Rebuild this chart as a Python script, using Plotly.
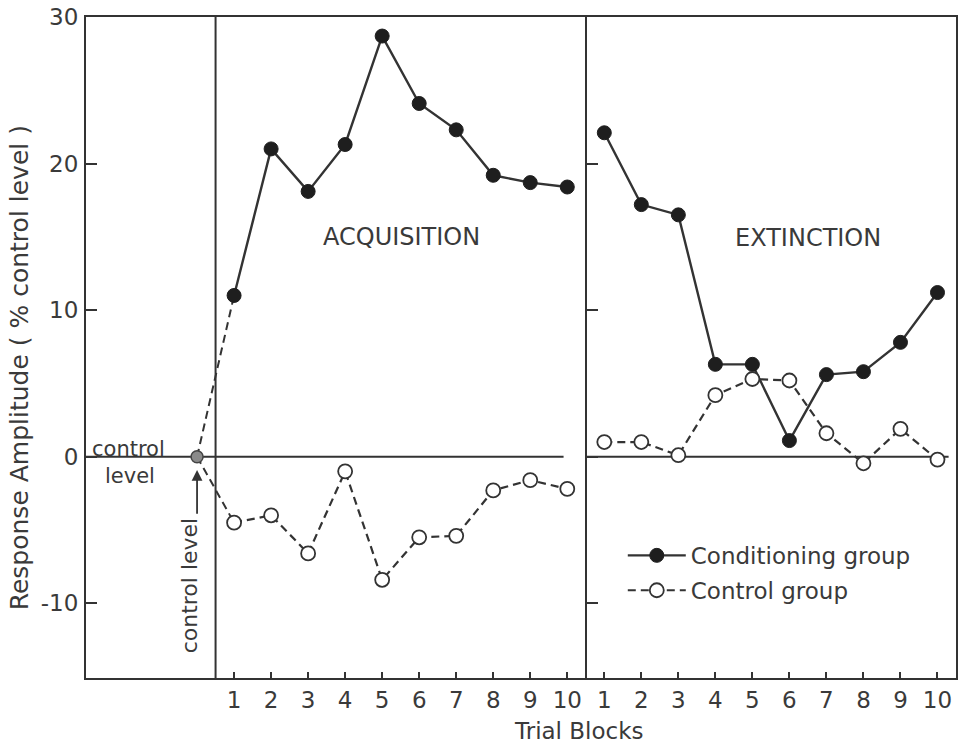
import plotly.graph_objects as go

# ---- data ----
blocks = [1, 2, 3, 4, 5, 6, 7, 8, 9, 10]
block_labels = ["1", "2", "3", "4", "5", "6", "7", "8", "9", "10"]
cond_acq = [11.0, 21.0, 18.1, 21.3, 28.7, 24.1, 22.3, 19.2, 18.7, 18.4]
cond_ext = [22.1, 17.2, 16.5, 6.3, 6.3, 1.1, 5.6, 5.8, 7.8, 11.2]
ctrl_acq = [-4.5, -4.0, -6.6, -1.0, -8.4, -5.5, -5.4, -2.3, -1.6, -2.2]
ctrl_ext = [1.0, 1.0, 0.1, 4.2, 5.3, 5.2, 1.6, -0.45, 1.9, -0.2]
control_level = 0.0
ytick_vals = [-10, 0, 10, 20, 30]
ytick_text = ["-10", "0", "10", "20", "30"]

# positions on a continuous axis: acquisition 1..10, extinction 11..20
x_acq = blocks
x_ext = [b + 10 for b in blocks]
x_ctrl_point = 0

INK = "#333333"
TXT = "#3a3a3a"
FONT = "DejaVu Sans"
MS = 14
DASH = "8px,5px"

fig = go.Figure()

# dashed links from control level to first acquisition block
fig.add_trace(go.Scatter(x=[x_ctrl_point, x_acq[0]], y=[control_level, cond_acq[0]],
                         mode="lines", line=dict(color=INK, width=2, dash=DASH),
                         showlegend=False, hoverinfo="skip"))
fig.add_trace(go.Scatter(x=[x_ctrl_point, x_acq[0]], y=[control_level, ctrl_acq[0]],
                         mode="lines", line=dict(color=INK, width=2, dash=DASH),
                         showlegend=False, hoverinfo="skip"))

# conditioning group
fig.add_trace(go.Scatter(x=x_acq, y=cond_acq, mode="lines+markers", name="Conditioning group",
                         legendgroup="a",
                         line=dict(color=INK, width=2.4),
                         marker=dict(size=MS, color="#1e1e1e", line=dict(color="#1e1e1e", width=1))))
fig.add_trace(go.Scatter(x=x_ext, y=cond_ext, mode="lines+markers", showlegend=False,
                         legendgroup="a",
                         line=dict(color=INK, width=2.4),
                         marker=dict(size=MS, color="#1e1e1e", line=dict(color="#1e1e1e", width=1))))
# control group
fig.add_trace(go.Scatter(x=x_acq, y=ctrl_acq, mode="lines+markers", name="Control group",
                         legendgroup="b",
                         line=dict(color=INK, width=2.2, dash=DASH),
                         marker=dict(size=MS, color="white", line=dict(color=INK, width=1.8))))
fig.add_trace(go.Scatter(x=x_ext, y=ctrl_ext, mode="lines+markers", showlegend=False,
                         legendgroup="b",
                         line=dict(color=INK, width=2.2, dash=DASH),
                         marker=dict(size=MS, color="white", line=dict(color=INK, width=1.8))))
# control level point
fig.add_trace(go.Scatter(x=[x_ctrl_point], y=[control_level], mode="markers", showlegend=False,
                         marker=dict(size=12, color="#8a8a8a", line=dict(color="#444", width=1.5))))

# reference (zero) lines and panel divider
fig.add_shape(type="line", x0=-3, x1=9.9, y0=control_level, y1=control_level,
              line=dict(color=INK, width=2), layer="below")
fig.add_shape(type="line", x0=10.5, x1=20.3, y0=control_level, y1=control_level,
              line=dict(color=INK, width=2), layer="below")
fig.add_shape(type="line", x0=0.5, x1=0.5, y0=0, y1=1, yref="paper",
              line=dict(color=INK, width=2), layer="below")

xmin, xmax = -3, 20.5
fig.update_layout(
    width=959, height=743,
    margin=dict(l=86, r=1, t=17, b=65),
    paper_bgcolor="white", plot_bgcolor="white",
    font=dict(family=FONT, color=TXT, size=22),
    xaxis=dict(range=[xmin, xmax], tickvals=x_acq + x_ext, ticktext=block_labels + block_labels,
               ticks="inside", ticklen=6, tickcolor=INK, tickwidth=1.5,
               showline=True, linecolor=INK, linewidth=2, mirror=True,
               showgrid=False, zeroline=False, tickfont=dict(size=23), ticklabelstandoff=0),
    yaxis=dict(range=[-15.1, 30], tickvals=ytick_vals, ticktext=ytick_text,
               ticks="inside", ticklen=11, tickcolor=INK, tickwidth=2,
               showline=True, linecolor=INK, linewidth=2, mirror=True,
               showgrid=False, zeroline=False, tickfont=dict(size=23), ticklabelstandoff=1),
    yaxis2=dict(range=[-15.1, 30], overlaying="y", anchor="free",
                position=(10.5 - xmin) / (xmax - xmin),
                tickvals=[-10, 0, 10, 20], ticks="inside", ticklen=11, tickcolor=INK, tickwidth=2,
                showticklabels=False, showline=True, linecolor=INK, linewidth=2,
                showgrid=False, zeroline=False),
    showlegend=True,
    legend=dict(x=0.617, y=0.218, xanchor="left", yanchor="top", bgcolor="rgba(0,0,0,0)",
                font=dict(size=23, color=TXT), tracegroupgap=2, itemwidth=58),
)

# dummy trace to activate yaxis2
fig.add_trace(go.Scatter(x=[None], y=[None], yaxis="y2", showlegend=False, hoverinfo="skip"))

ann = [
    dict(x=5.53, y=15.0, text="ACQUISITION", showarrow=False, font=dict(size=24)),
    dict(x=16.5, y=14.95, text="EXTINCTION", showarrow=False, font=dict(size=24)),
    dict(x=-1.86, y=0.55, text="control", showarrow=False, font=dict(size=21)),
    dict(x=-1.8, y=-1.3, text="level", showarrow=False, font=dict(size=21)),
    dict(x=-0.18, y=-8.75, text="control level", showarrow=False, textangle=-90, font=dict(size=22)),
    dict(x=0, y=-0.9, ax=0, ay=-4.0, axref="x", ayref="y", text="", showarrow=True,
         arrowhead=2, arrowsize=1.2, arrowwidth=1.8, arrowcolor=INK),
    dict(x=-0.0755, y=0.469, xref="paper", yref="paper", xanchor="center", yanchor="middle",
         text="Response Amplitude ( % control level )",
         textangle=-90, showarrow=False, font=dict(size=25)),
    dict(x=0.567, y=-0.058, xref="paper", yref="paper", xanchor="center", yanchor="top",
         text="Trial Blocks", showarrow=False, font=dict(size=23)),
]
fig.update_layout(annotations=ann)

fig.write_html("out.html")
